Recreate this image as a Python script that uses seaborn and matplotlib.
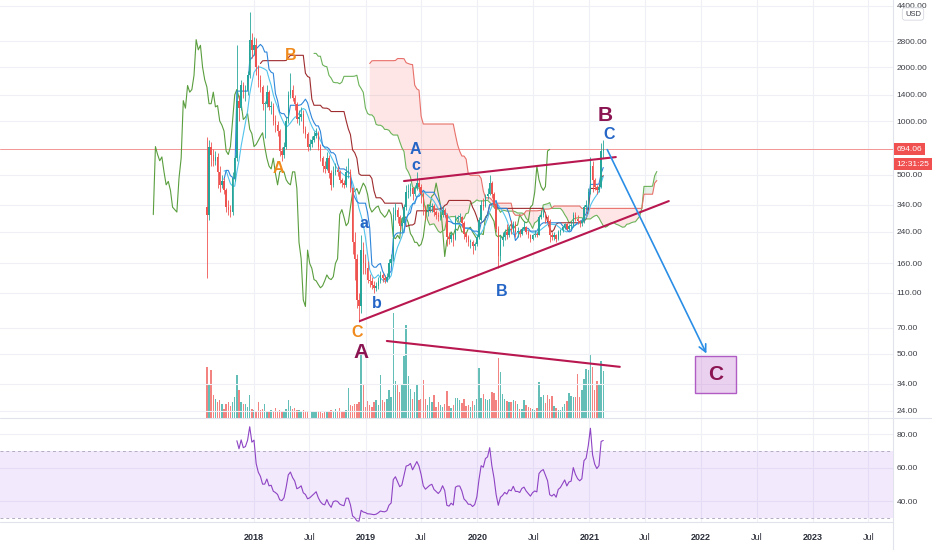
import numpy as np
import pandas as pd
import matplotlib
matplotlib.use("Agg")
import matplotlib.pyplot as plt
from matplotlib.lines import Line2D
from matplotlib.patches import Rectangle
from matplotlib.ticker import FixedLocator, FuncFormatter, NullLocator
import seaborn as sns

sns.set_theme(style="white")
plt.rcParams["font.family"] = ["Liberation Sans", "DejaVu Sans"]

# weekly candles (BCH / USD), open of each week = previous close
start_week = "2017-07-31"
first_open = 330
close = [300, 720, 650, 600, 630, 520, 440, 460, 410, 330,
         320, 310, 480, 620, 1300, 1180, 1580, 1450, 1500, 1800,
         2850, 2500, 2650, 2000, 1700, 1550, 1250, 1250, 1450, 1200,
         1220, 1000, 950, 880, 680, 650, 720, 1000, 1400, 1500,
         1350, 1250, 1020, 1050, 1100, 900, 850, 720, 740, 780,
         820, 860, 720, 620, 560, 540, 620, 510, 440, 520,
         530, 520, 470, 450, 440, 520, 520, 420, 210, 170,
         100, 92, 190, 160, 150, 130, 128, 122, 117, 120,
         128, 138, 132, 130, 135, 160, 170, 300, 320, 290,
         260, 270, 330, 400, 405, 420, 390, 420, 450, 430,
         390, 330, 310, 320, 330, 335, 310, 300, 290, 300,
         320, 300, 225, 220, 230, 220, 285, 290, 290, 270,
         235, 225, 210, 210, 200, 205, 225, 280, 340, 335,
         380, 390, 450, 390, 340, 250, 175, 215, 225, 240,
         230, 250, 245, 265, 240, 240, 235, 250, 255, 240,
         230, 220, 230, 235, 232, 290, 300, 305, 290, 275,
         230, 225, 230, 220, 240, 245, 255, 265, 250, 260,
         262, 300, 285, 275, 270, 275, 330, 340, 400, 560,
         470, 430, 410, 430, 680, 694.06]
high = [810, 780, 760, 700, 680, 660, 560, 500, 480, 420,
        360, 340, 520, 650, 2650, 1400, 1700, 1650, 1600, 1900,
        4060, 3100, 2950, 2900, 2050, 1800, 1600, 1300, 1600, 1500,
        1300, 1260, 1080, 1000, 900, 720, 760, 1050, 1480, 1850,
        1600, 1400, 1280, 1150, 1200, 1150, 940, 870, 790, 820,
        880, 920, 880, 740, 640, 600, 670, 650, 530, 560,
        580, 560, 530, 480, 470, 560, 620, 540, 430, 240,
        180, 110, 230, 210, 180, 165, 140, 135, 128, 126,
        135, 145, 142, 138, 142, 170, 180, 330, 350, 330,
        300, 290, 345, 440, 445, 450, 430, 440, 520, 480,
        445, 400, 340, 345, 350, 350, 345, 320, 310, 315,
        335, 325, 305, 240, 240, 235, 300, 300, 305, 295,
        275, 240, 230, 220, 215, 212, 235, 290, 360, 370,
        390, 420, 500, 460, 400, 350, 260, 230, 240, 250,
        265, 260, 280, 275, 275, 255, 250, 255, 275, 260,
        245, 235, 235, 245, 240, 300, 320, 330, 310, 300,
        285, 240, 240, 235, 245, 250, 260, 270, 270, 265,
        275, 310, 310, 300, 280, 285, 340, 360, 420, 630,
        600, 480, 440, 440, 750, 780]
low = [133, 280, 560, 560, 570, 420, 400, 420, 390, 310,
       300, 290, 300, 460, 600, 1000, 1150, 1350, 1300, 1400,
       1750, 2250, 2350, 1800, 1550, 1450, 1150, 800, 1200, 1150,
       1100, 950, 870, 820, 640, 600, 620, 700, 980, 1350,
       1300, 1150, 980, 950, 1000, 860, 800, 680, 690, 720,
       760, 800, 690, 600, 520, 510, 530, 480, 410, 430,
       500, 490, 450, 430, 420, 430, 480, 400, 180, 130,
       90, 75, 85, 140, 140, 125, 118, 115, 110, 112,
       115, 125, 126, 124, 126, 132, 155, 165, 280, 270,
       245, 240, 265, 320, 370, 380, 360, 380, 410, 400,
       350, 300, 280, 295, 310, 310, 295, 285, 275, 280,
       290, 290, 200, 205, 210, 200, 215, 275, 275, 255,
       220, 210, 200, 195, 180, 190, 200, 220, 275, 320,
       330, 365, 385, 370, 325, 240, 150, 165, 200, 215,
       220, 225, 235, 240, 225, 225, 225, 230, 245, 235,
       222, 210, 215, 225, 225, 230, 285, 290, 270, 265,
       210, 215, 215, 210, 215, 230, 240, 248, 245, 245,
       250, 255, 275, 265, 255, 260, 270, 320, 330, 390,
       400, 410, 390, 400, 420, 620]
volume = [51, 34, 48, 23, 19, 16, 18, 14, 9, 14,
          16, 12, 16, 21, 43, 28, 16, 14, 14, 11,
          23, 9, 8, 7, 16, 8, 9, 14, 6, 7,
          8, 6, 10, 7, 8, 6, 7, 9, 18, 12,
          9, 10, 8, 8, 7, 8, 7, 6, 7, 6,
          7, 6, 7, 6, 5, 7, 6, 6, 8, 7,
          9, 6, 10, 7, 6, 8, 30, 13, 12, 14,
          14, 16, 63, 34, 11, 17, 13, 11, 16, 18,
          13, 43, 18, 16, 19, 28, 21, 105, 37, 34,
          26, 34, 62, 93, 42, 29, 19, 26, 34, 18,
          19, 38, 19, 13, 21, 16, 23, 11, 16, 13,
          11, 14, 27, 12, 10, 13, 20, 20, 18, 15,
          19, 12, 13, 11, 17, 13, 19, 50, 20, 24,
          19, 18, 19, 26, 25, 18, 60, 46, 24, 19,
          17, 16, 16, 18, 17, 14, 9, 9, 18, 13,
          11, 10, 9, 8, 10, 36, 21, 23, 15, 23,
          19, 22, 12, 10, 8, 8, 11, 14, 17, 25,
          22, 21, 21, 44, 21, 28, 39, 49, 48, 64,
          51, 28, 37, 34, 57, 47]

last_price = 694.06
countdown = "12:31:25"

price_ticks = [24, 34, 50, 70, 110, 160, 240, 340, 500, 1000, 1400, 2000, 2800, 4400]
rsi_ticks = [40, 60, 80]
date_ticks = ["2018-01-01", "2018-07-01", "2019-01-01", "2019-07-01", "2020-01-01", "2020-07-01",
              "2021-01-01", "2021-07-01", "2022-01-01", "2022-07-01", "2023-01-01", "2023-07-01"]
date_labels = ["2018", "Jul", "2019", "Jul", "2020", "Jul", "2021", "Jul", "2022", "Jul", "2023", "Jul"]

# drawings on the chart
ORANGE, BLUE, MAROON = "#F08A1C", "#2465C6", "#8B1552"
wave_labels = [
    ("B", "2018-05-01", 2337, ORANGE, 11.5),
    ("A", "2018-03-23", 546, ORANGE, 11.5),
    ("C", "2018-12-03", 65.4, ORANGE, 11.5),
    ("A", "2019-06-11", 689, BLUE, 11.5),
    ("c", "2019-06-14", 561, BLUE, 11.5),
    ("a", "2018-12-26", 266, BLUE, 11.5),
    ("b", "2019-02-07", 95, BLUE, 11.5),
    ("B", "2020-03-21", 112, BLUE, 11.5),
    ("C", "2021-03-06", 846, BLUE, 11.5),
    ("B", "2021-02-21", 1080, MAROON, 15),
    ("A", "2018-12-17", 50.6, MAROON, 15),
]
trend_lines = [
    (("2019-05-06", 462), ("2021-03-28", 629)),
    (("2018-12-13", 76.3), ("2021-09-17", 357)),
    (("2019-03-11", 59), ("2021-04-10", 42.3)),
]
arrow_from = ("2021-02-24", 715)
arrow_to = ("2022-01-22", 48.6)
target_box = (("2021-12-11", 30.2), ("2022-04-24", 48.6))

# ---- indicators ----
weeks = pd.date_range(start_week, periods=len(close), freq="7D")
df = pd.DataFrame({"high": high, "low": low, "close": close}, index=weeks)
df["open"] = [first_open] + close[:-1]


def donchian_mid(n):
    return (df["high"].rolling(n).max() + df["low"].rolling(n).min()) / 2


tenkan = donchian_mid(9)
kijun = donchian_mid(26)
span_a = (tenkan + kijun) / 2
span_b = donchian_mid(52)
lead_dates = weeks + pd.Timedelta(weeks=25)
lag_dates = weeks - pd.Timedelta(weeks=25)
sma9 = df["close"].rolling(9).mean()

# RSI 14 (Wilder)
diff = np.diff(np.array(close, dtype=float))
gains = np.clip(diff, 0, None)
losses = np.clip(-diff, 0, None)
rsi = np.full(len(close), np.nan)
ag, al = gains[:14].mean(), losses[:14].mean()
rsi[14] = 100 - 100 / (1 + ag / al)
for k in range(14, len(diff)):
    ag = (ag * 13 + gains[k]) / 14
    al = (al * 13 + losses[k]) / 14
    rsi[k + 1] = 100 - 100 / (1 + ag / al)

# ---- figure ----
W, H = 932, 550
fig = plt.figure(figsize=(W / 100, H / 100), dpi=100)
fig.patch.set_facecolor("white")
right = 893 / W
ax = fig.add_axes([0, 1 - 418 / H, right, 418 / H])
axr = fig.add_axes([0, 1 - 522 / H, right, 104 / H], sharex=ax)
axv = ax.twinx()
axv.set_zorder(1)
ax.set_zorder(2)
ax.patch.set_visible(False)
axv.patch.set_visible(False)

d0 = pd.Timestamp("2018-01-01")
ax.set_xlim(d0 - pd.Timedelta(days=829.8), d0 + pd.Timedelta(days=2087.5))
ax.set_yscale("log")
ax.set_ylim(21.9, 4747)

grid_c = "#EEF0F5"
for t in date_ticks:
    ax.axvline(pd.Timestamp(t), color=grid_c, lw=0.8, zorder=0)
    axr.axvline(pd.Timestamp(t), color=grid_c, lw=0.8, zorder=0)
for p in price_ticks:
    ax.axhline(p, color=grid_c, lw=0.8, zorder=0)
for r in rsi_ticks:
    axr.axhline(r, color=grid_c, lw=0.8, zorder=0)

# cloud
ax.fill_between(lead_dates, span_a, span_b, where=(span_a < span_b), interpolate=True,
                color="#F44336", alpha=0.13, lw=0, zorder=1)
ax.fill_between(lead_dates, span_a, span_b, where=(span_a >= span_b), interpolate=True,
                color="#43A047", alpha=0.13, lw=0, zorder=1)

# volume overlay
up = (df["close"] >= df["open"]).values
colors = np.where(up, "#26A69A", "#EF5350")
axv.bar(weeks, volume, width=4.6, color=colors, alpha=0.72, lw=0)
axv.set_ylim(0, max(volume) * 3.98)
axv.axis("off")

# indicator lines
lw = 0.8
sns.lineplot(x=lag_dates, y=df["close"].values, ax=ax, color="#5A9E3E", lw=lw, estimator=None, sort=False, zorder=2)
sns.lineplot(x=lead_dates, y=span_a.values, ax=ax, color="#6DB35A", lw=lw, estimator=None, sort=False, zorder=2)
sns.lineplot(x=lead_dates, y=span_b.values, ax=ax, color="#E8706A", lw=lw, estimator=None, sort=False, zorder=2)
sns.lineplot(x=weeks, y=kijun.values, ax=ax, color="#9E2B2E", lw=lw, estimator=None, sort=False, zorder=3)
sns.lineplot(x=weeks, y=sma9.values, ax=ax, color="#52C3EC", lw=lw, estimator=None, sort=False, zorder=3)
sns.lineplot(x=weeks, y=tenkan.values, ax=ax, color="#2F86DA", lw=lw, estimator=None, sort=False, zorder=3)

# candles
ax.vlines(weeks, df["low"], df["high"], colors=colors, lw=0.6, zorder=4)
body_lo = np.minimum(df["open"], df["close"]).values
body_h = np.maximum(np.abs(df["close"] - df["open"]).values, body_lo * 0.012)
ax.bar(weeks, body_h, bottom=body_lo, width=4.6, color=colors, lw=0, zorder=5)

# last price line
ax.axhline(last_price, color="#F29593", lw=0.7, zorder=1)

# drawings
for (a, b) in trend_lines:
    ax.plot([pd.Timestamp(a[0]), pd.Timestamp(b[0])], [a[1], b[1]], color="#B8174F", lw=1.5,
            solid_capstyle="round", zorder=7)
ax.annotate("", xy=(pd.Timestamp(arrow_to[0]), arrow_to[1]),
            xytext=(pd.Timestamp(arrow_from[0]), arrow_from[1]),
            arrowprops=dict(arrowstyle="->", color="#2A8EE6", lw=1.2, mutation_scale=13), zorder=7)
(bx0, by0), (bx1, by1) = target_box
bxa, bxb = pd.Timestamp(bx0), pd.Timestamp(bx1)
ax.add_patch(Rectangle((bxa, by0), bxb - bxa, by1 - by0, facecolor="#C77DD6", alpha=0.35,
                       edgecolor="none", zorder=6))
ax.add_patch(Rectangle((bxa, by0), bxb - bxa, by1 - by0, facecolor="none",
                       edgecolor="#B05CC4", lw=1.0, zorder=6))
ax.text(bxa + (bxb - bxa) / 2, np.sqrt(by0 * by1), "C", color=MAROON, fontsize=15,
        fontweight="bold", ha="center", va="center", zorder=8)
for txt, d, p, c, fs in wave_labels:
    ax.text(pd.Timestamp(d), p, txt, color=c, fontsize=fs, fontweight="bold",
            ha="center", va="center", zorder=8)

# price axis
for s in ax.spines.values():
    s.set_visible(False)
ax.yaxis.tick_right()
ax.yaxis.set_major_locator(FixedLocator(price_ticks))
ax.yaxis.set_minor_locator(NullLocator())
ax.yaxis.set_major_formatter(FuncFormatter(lambda v, _: f"{v:.2f}"))
ax.tick_params(axis="y", length=0, pad=2.5, labelsize=6, labelcolor="#3C3F47")
ax.tick_params(axis="x", length=0, labelbottom=False)
ax.set_xlabel("")
ax.set_ylabel("")

ax.annotate(f"{last_price:.2f}", xy=(1, last_price), xycoords=("axes fraction", "data"),
            xytext=(2.5, 0), textcoords="offset points", ha="left", va="center", fontsize=6,
            color="white", annotation_clip=False,
            bbox=dict(boxstyle="square,pad=0.3", fc="#F0504F", ec="none"))
ax.annotate(countdown, xy=(1, last_price), xycoords=("axes fraction", "data"),
            xytext=(2.5, -10.5), textcoords="offset points", ha="left", va="center", fontsize=6,
            color="white", annotation_clip=False,
            bbox=dict(boxstyle="square,pad=0.3", fc="#F0504F", ec="none"))

# RSI pane
axr.axhspan(30, 70, color="#B070F0", alpha=0.15, lw=0, zorder=0)
axr.axhline(70, color="#B3ADC2", lw=0.7, ls=(0, (3, 3)), zorder=1)
axr.axhline(30, color="#B3ADC2", lw=0.7, ls=(0, (3, 3)), zorder=1)
sns.lineplot(x=weeks, y=rsi, ax=axr, color="#8E44C4", lw=0.8, estimator=None, sort=False, zorder=3)
axr.set_ylim(27.6, 89.6)
for s in axr.spines.values():
    s.set_visible(False)
axr.yaxis.tick_right()
axr.yaxis.set_major_locator(FixedLocator(rsi_ticks))
axr.yaxis.set_major_formatter(FuncFormatter(lambda v, _: f"{v:.2f}"))
axr.tick_params(axis="y", length=0, pad=2.5, labelsize=6, labelcolor="#3C3F47")
axr.set_xticks([pd.Timestamp(t) for t in date_ticks])
axr.set_xticklabels(date_labels)
axr.tick_params(axis="x", length=3, color="#C9CCD3", direction="out", pad=5, labelsize=6.5,
                labelcolor="#2A2E39")
for lab in axr.get_xticklabels():
    if lab.get_text() != "Jul":
        lab.set_fontweight("bold")
axr.set_xlabel("")
axr.set_ylabel("")

# pane borders
line_c = "#E0E3EB"
fig.add_artist(Line2D([right, right], [0, 1], transform=fig.transFigure, color=line_c, lw=0.8))
fig.add_artist(Line2D([0, 1], [1 - 418 / H, 1 - 418 / H], transform=fig.transFigure, color=line_c, lw=0.8))
fig.add_artist(Line2D([0, right], [1 - 522 / H, 1 - 522 / H], transform=fig.transFigure, color=line_c, lw=0.8))
fig.text(913 / W, 1 - 14 / H, "USD", fontsize=5.5, ha="center", va="center", color="#3C3F47",
         bbox=dict(boxstyle="round,pad=0.35", fc="white", ec="#D6D9E0", lw=0.6))

fig.savefig("out.png", dpi=100)
